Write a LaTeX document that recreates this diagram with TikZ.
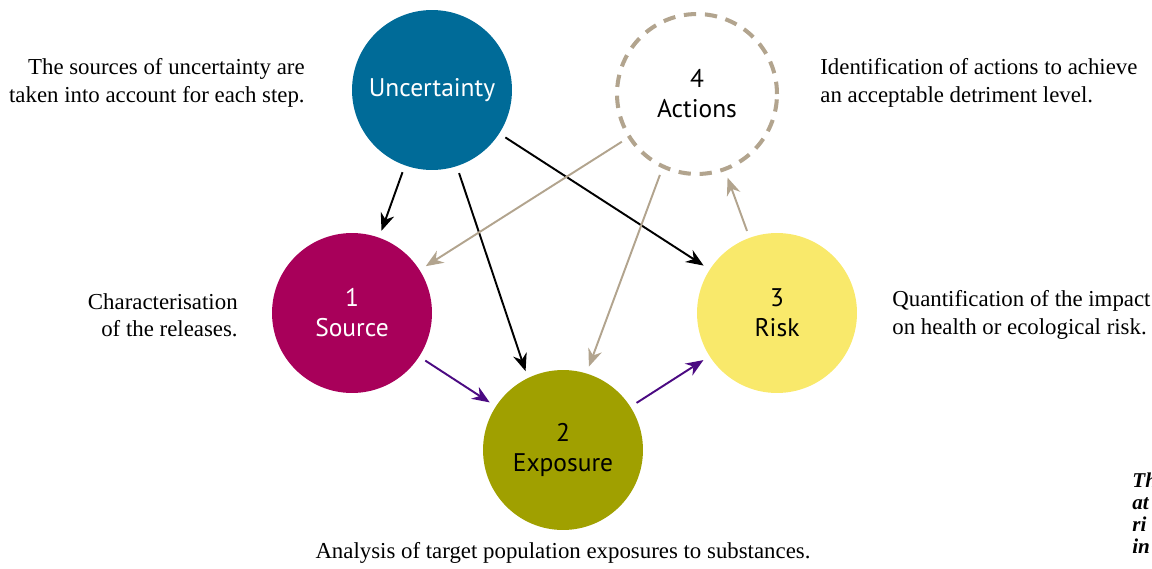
\documentclass[tikz,border=0pt]{standalone}
\usepackage{fontspec}
\setmainfont{Liberation Serif}
\newfontfamily\circfont{PT Sans}
\usepackage{tikz}
\usetikzlibrary{positioning,arrows.meta}

\definecolor{uncblue}{HTML}{006B98}
\definecolor{srcmag}{HTML}{A8005A}
\definecolor{expolive}{HTML}{A0A000}
\definecolor{riskyel}{HTML}{F9E96B}
\definecolor{acttan}{HTML}{B2A48E}
\definecolor{flowpurple}{HTML}{4B0A82}

\tikzset{
  stage/.style={circle, minimum size=3.2cm, inner sep=0pt, align=center, font=\circfont\fontsize{14.5}{17}\selectfont},
  note/.style={font=\fontsize{13}{15.5}\selectfont},
  link/.style={->, line width=1.1pt, shorten >=4pt, shorten <=4pt},
}

\begin{document}
\begin{tikzpicture}[x=0.02cm, y=-0.02cm, >={Stealth[length=10pt, width=8pt]}]
  \useasboundingbox (0,0) rectangle (1152,568);

  \node (unc) at (432,90) [stage, fill=uncblue, text=white] {Uncertainty};
  \node (act) at (697,94) [stage, draw=acttan, line width=2.3pt, dash pattern=on 7pt off 5pt] {4\\Actions};
  \node (src) at (352,313) [stage, fill=srcmag, text=white] {1\\Source};
  \node (exp) at (563,450) [stage, fill=expolive] {2\\Exposure};
  \node (risk) at (777,313) [stage, fill=riskyel] {3\\Risk};

  \node (uncnote) at (305,83) [note, anchor=east, align=right, inner sep=0pt] {The sources of uncertainty are\\taken into account for each step.};
  \node (actnote) at (820,83) [note, anchor=west, align=left, inner sep=0pt] {Identification of actions to achieve\\an acceptable detriment level.};
  \node (srcnote) at (238,315) [note, anchor=east, align=right, inner sep=0pt] {Characterisation\\of the releases.};
  \node (risknote) at (892,315) [note, anchor=west, align=left, inner sep=0pt] {Quantification of the impact\\on health or ecological risk.};
  \node (expnote) at (563,553) [note, inner sep=0pt] {Analysis of target population exposures to substances.};
  \node (cut) at (1132,513) [anchor=west, align=left, inner sep=0pt, font=\bfseries\itshape\fontsize{12}{12.5}\selectfont] {Th\\at\\ri\\in};

  \draw[link] (unc) -- (src);
  \draw[link] (unc.-72) -- (exp.116);
  \draw[link] (unc) -- (risk);
  \draw[link, acttan] (act) -- (src);
  \draw[link, acttan] (act.245) -- (exp.73);
  \draw[link, acttan] (risk) -- (act);
  \draw[link, flowpurple] (src) -- (exp);
  \draw[link, flowpurple] (exp) -- (risk);
\end{tikzpicture}
\end{document}
